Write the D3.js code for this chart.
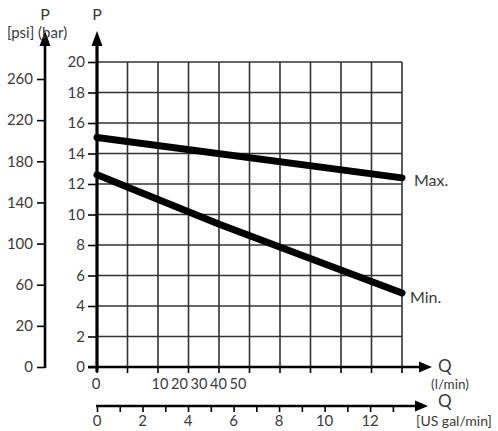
<!DOCTYPE html>
<html>
<head>
<meta charset="utf-8">
<script src="https://cdn.jsdelivr.net/npm/d3@7"></script>
<style>
  body { margin: 0; background: #fff; }
  text { font-family: Lato, "Open Sans", sans-serif; fill: #3a3a3a; }
</style>
</head>
<body>
<div id="chart-area"></div>
<script>
// data
var barTicks = [0, 2, 4, 6, 8, 10, 12, 14, 16, 18, 20];
var psiTicks = ["0", "20", "60", "100", "140", "180", "220", "260"];
var galTicks = [0, 1, 2, 3, 4, 5, 6, 7, 8, 9, 10, 11, 12, 13];
var galLabels = [0, 2, 4, 6, 8, 10, 12];
var lpmLabels = ["10", "20", "30", "40", "50"];
var gridCols = [0, 1, 2, 3, 4, 5, 6, 7, 8, 9, 10];
var maxQ = [0, 13.4];
var maxP = [15.05, 12.4];
var minQ = [0, 5.4, 13.4];
var minP = [12.6, 9.35, 4.85];

var width = 498, height = 431;
var svg = d3.select("#chart-area").append("svg")
    .attr("width", width)
    .attr("height", height);

// scales
var y = d3.scaleLinear().domain([0, 20]).range([367, 62]);
var col = d3.scaleLinear().domain([0, 10]).range([97, 402]);
var gal = d3.scaleLinear().domain([0, 13.4]).range([97, 402]);
var psi = d3.scalePoint().domain(psiTicks).range([367, 79]);

// grid
svg.append("g").selectAll("line").data(barTicks).enter().append("line")
    .attr("x1", col(0)).attr("x2", col(10))
    .attr("y1", d => y(d)).attr("y2", d => y(d))
    .attr("stroke", "#333").attr("stroke-width", 1.6);
svg.append("g").selectAll("line").data(gridCols).enter().append("line")
    .attr("x1", d => col(d)).attr("x2", d => col(d))
    .attr("y1", y(0)).attr("y2", y(20))
    .attr("stroke", "#333").attr("stroke-width", 1.6);

function arrowUp(x, tip) {
    svg.append("path")
        .attr("d", "M" + x + "," + tip + "L" + (x - 5.5) + "," + (tip + 15) + "L" + (x + 5.5) + "," + (tip + 15) + "Z")
        .attr("fill", "#000");
}
function arrowRight(yy, tip) {
    svg.append("path")
        .attr("d", "M" + tip + "," + yy + "L" + (tip - 13) + "," + (yy - 5.5) + "L" + (tip - 13) + "," + (yy + 5.5) + "Z")
        .attr("fill", "#000");
}

// bar axis (Y)
svg.append("line")
    .attr("x1", 97).attr("x2", 97)
    .attr("y1", y(0) + 5).attr("y2", 40)
    .attr("stroke", "#000").attr("stroke-width", 3.2);
arrowUp(97, 31);
var yAxisCall = d3.axisLeft(y).tickValues(barTicks).tickSize(9).tickPadding(3);
var yAx = svg.append("g").attr("transform", "translate(97,0)").call(yAxisCall);
yAx.select(".domain").remove();
yAx.selectAll(".tick line").attr("stroke", "#000").attr("stroke-width", 1.6);
yAx.selectAll(".tick text").attr("font-size", "15px").attr("font-family", "Lato, sans-serif").attr("fill", "#3a3a3a");

// psi axis
svg.append("line")
    .attr("x1", 45).attr("x2", 45)
    .attr("y1", 368).attr("y2", 40)
    .attr("stroke", "#000").attr("stroke-width", 2.6);
arrowUp(45, 31);
var psiAxisCall = d3.axisLeft(psi).tickSize(8).tickPadding(4);
var pAx = svg.append("g").attr("transform", "translate(45,0)").call(psiAxisCall);
pAx.select(".domain").remove();
pAx.selectAll(".tick line").attr("stroke", "#000").attr("stroke-width", 1.6);
pAx.selectAll(".tick text").attr("font-size", "15px").attr("font-family", "Lato, sans-serif").attr("fill", "#3a3a3a");

svg.append("text").attr("x", 45).attr("y", 20).attr("text-anchor", "middle")
    .attr("font-size", "16px").text("P");
svg.append("text").attr("x", 97).attr("y", 20).attr("text-anchor", "middle")
    .attr("font-size", "16px").text("P");
svg.append("text").attr("x", 7).attr("y", 38)
    .attr("font-size", "15px").text("[psi] (bar)");

// main x axis (l/min)
svg.append("line")
    .attr("x1", 88).attr("x2", 422)
    .attr("y1", y(0)).attr("y2", y(0))
    .attr("stroke", "#000").attr("stroke-width", 2.6);
arrowRight(y(0), 432);
svg.append("g").selectAll("line").data(gridCols).enter().append("line")
    .attr("x1", d => col(d)).attr("x2", d => col(d))
    .attr("y1", y(0)).attr("y2", y(0) + 6)
    .attr("stroke", "#000").attr("stroke-width", 1.6);
svg.append("text").attr("x", 96).attr("y", 389).attr("text-anchor", "middle")
    .attr("font-size", "15px").text("0");
svg.append("g").selectAll("text").data(lpmLabels).enter().append("text")
    .attr("x", (d, i) => 160 + i * 19.5)
    .attr("y", 389).attr("text-anchor", "middle")
    .attr("font-size", "14.5px").text(d => d);
svg.append("text").attr("x", 438).attr("y", 372)
    .attr("font-size", "17px").text("Q");
svg.append("text").attr("x", 450).attr("y", 389).attr("text-anchor", "middle")
    .attr("font-size", "13.5px").text("(l/min)");

// gal axis
var galY = 406;
svg.append("line")
    .attr("x1", 96).attr("x2", 418)
    .attr("y1", galY).attr("y2", galY)
    .attr("stroke", "#000").attr("stroke-width", 2.4);
arrowRight(galY, 428);
var galAxisCall = d3.axisBottom(gal).tickValues(galTicks).tickSize(6).tickFormat("");
var gAx = svg.append("g").attr("transform", "translate(0," + galY + ")").call(galAxisCall);
gAx.select(".domain").remove();
gAx.selectAll(".tick line").attr("stroke", "#000").attr("stroke-width", 1.6);
svg.append("g").selectAll("text").data(galLabels).enter().append("text")
    .attr("x", d => gal(d)).attr("y", 426).attr("text-anchor", "middle")
    .attr("font-size", "15px").text(d => d);
svg.append("text").attr("x", 438).attr("y", 407)
    .attr("font-size", "17px").text("Q");
svg.append("text").attr("x", 454).attr("y", 426).attr("text-anchor", "middle")
    .attr("font-size", "14px").text("[US gal/min]");

// curves
var line = d3.line().x(d => gal(d[0])).y(d => y(d[1]));
svg.append("path")
    .attr("d", line(d3.zip(maxQ, maxP)))
    .attr("fill", "none").attr("stroke", "#000").attr("stroke-width", 7)
    .attr("stroke-linecap", "round");
svg.append("path")
    .attr("d", line(d3.zip(minQ, minP)))
    .attr("fill", "none").attr("stroke", "#000").attr("stroke-width", 7)
    .attr("stroke-linecap", "round");

svg.append("text").attr("x", 414).attr("y", 186)
    .attr("font-size", "16px").text("Max.");
svg.append("text").attr("x", 410).attr("y", 303)
    .attr("font-size", "16px").text("Min.");
</script>
</body>
</html>
